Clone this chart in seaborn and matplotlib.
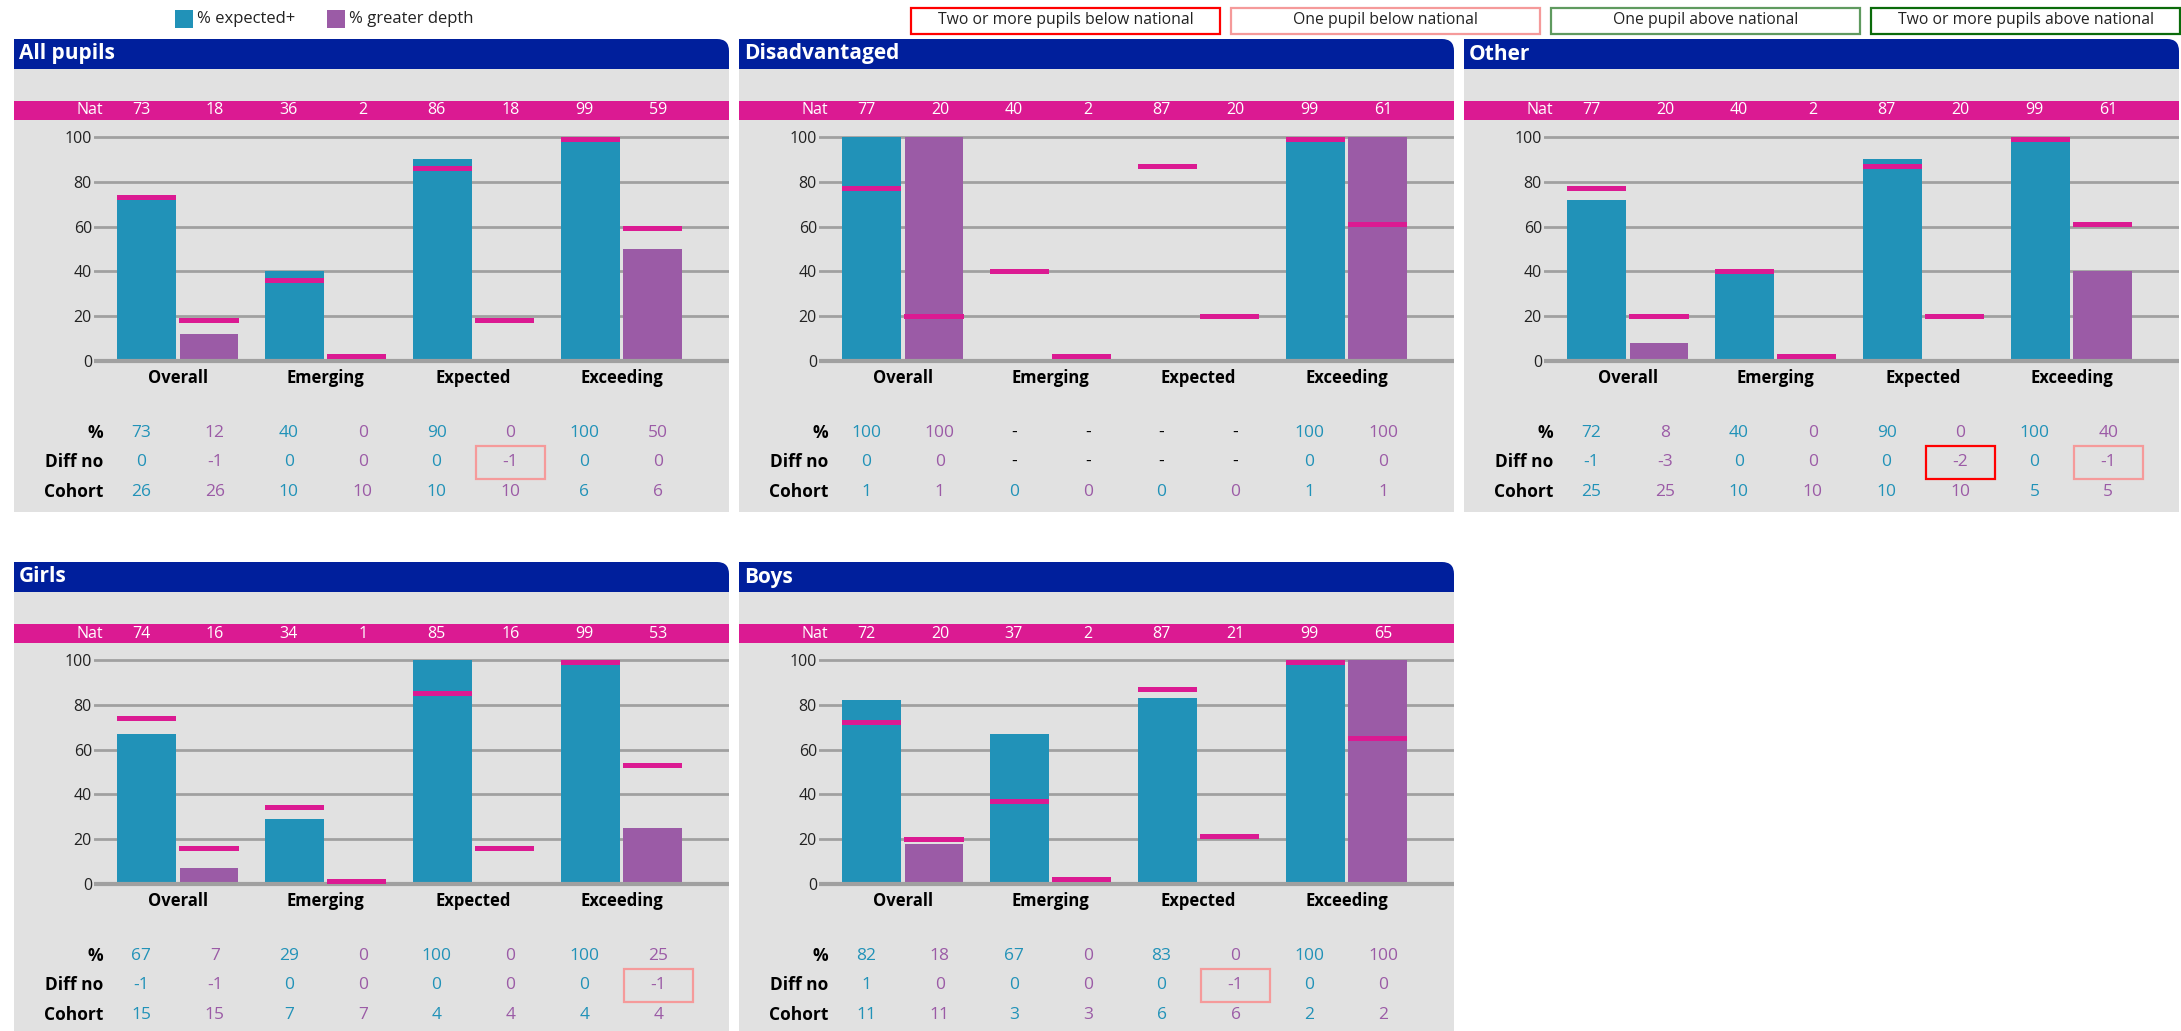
import numpy as np
import pandas as pd
import matplotlib
matplotlib.use("Agg")
import matplotlib.pyplot as plt
import seaborn as sns
from matplotlib.patches import Rectangle, FancyBboxPatch

sns.set_theme(style="white")
plt.rcParams['font.family'] = ['Open Sans', 'DejaVu Sans']

# ---- data ----
CATEGORIES = ["Overall", "Emerging", "Expected", "Exceeding"]
MEASURES = ["% expected+", "% greater depth"]
TITLES = ["All pupils", "Disadvantaged", "Other", "Girls", "Boys"]
ROW_LABELS = ["%", "Diff no", "Cohort"]
KEY_LABELS = ["Two or more pupils below national", "One pupil below national",
              "One pupil above national", "Two or more pupils above national"]

# 8 columns per panel: (Overall exp, Overall gd, Emerging exp, Emerging gd, ...)
all_nat = [73, 18, 36, 2, 86, 18, 99, 59]
all_pct = [73, 12, 40, 0, 90, 0, 100, 50]
all_diff = [0, -1, 0, 0, 0, -1, 0, 0]
all_cohort = [26, 26, 10, 10, 10, 10, 6, 6]
all_flag = [0, 0, 0, 0, 0, -1, 0, 0]

dis_nat = [77, 20, 40, 2, 87, 20, 99, 61]
dis_pct = [100, 100, None, None, None, None, 100, 100]
dis_diff = [0, 0, None, None, None, None, 0, 0]
dis_cohort = [1, 1, 0, 0, 0, 0, 1, 1]
dis_flag = [0, 0, 0, 0, 0, 0, 0, 0]

oth_nat = [77, 20, 40, 2, 87, 20, 99, 61]
oth_pct = [72, 8, 40, 0, 90, 0, 100, 40]
oth_diff = [-1, -3, 0, 0, 0, -2, 0, -1]
oth_cohort = [25, 25, 10, 10, 10, 10, 5, 5]
oth_flag = [0, 0, 0, 0, 0, -2, 0, -1]

girl_nat = [74, 16, 34, 1, 85, 16, 99, 53]
girl_pct = [67, 7, 29, 0, 100, 0, 100, 25]
girl_diff = [-1, -1, 0, 0, 0, 0, 0, -1]
girl_cohort = [15, 15, 7, 7, 4, 4, 4, 4]
girl_flag = [0, 0, 0, 0, 0, 0, 0, -1]

boy_nat = [72, 20, 37, 2, 87, 21, 99, 65]
boy_pct = [82, 18, 67, 0, 83, 0, 100, 100]
boy_diff = [1, 0, 0, 0, 0, -1, 0, 0]
boy_cohort = [11, 11, 3, 3, 6, 6, 2, 2]
boy_flag = [0, 0, 0, 0, 0, -1, 0, 0]

# ---- style ----
BLUE = "#2192b8"
PURPLE = "#9b5ba6"
PINK = "#db1a92"
NAVY = "#001f9c"
GREY = "#e1e1e1"
GRID = "#a0a0a0"
FLAG_COLORS = {-2: "#ff0000", -1: "#f59a9a", 1: "#5f9a5f", 2: "#0a6b0a"}
KEY_COLORS = ["#ff0000", "#f59a9a", "#5f9a5f", "#0a6b0a"]

W, H = 2181, 1031
PW, PH = 715, 473
fig = plt.figure(figsize=(W / 100, H / 100), dpi=100)


def rect(x, y, w, h):
    # pixel box measured from top-left -> figure fraction
    return [x / W, 1 - (y + h) / H, w / W, h / H]


COLX = [127 + 73.9 * i for i in range(8)]
ROW_Y = [394, 423, 453]


def draw_panel(left, top, title, nat, pct, diff, cohort, flag):
    bg = fig.add_axes(rect(left, top, PW, PH))
    bg.set_xlim(0, PW)
    bg.set_ylim(PH, 0)
    bg.axis("off")
    bg.add_patch(Rectangle((0, 30), PW, PH - 30, color=GREY, lw=0))
    bg.add_patch(FancyBboxPatch((0, 0), PW, 30, boxstyle="round,pad=0,rounding_size=12",
                                color=NAVY, lw=0))
    bg.add_patch(Rectangle((0, 0), PW - 20, 30, color=NAVY, lw=0))
    bg.add_patch(Rectangle((0, 15), PW, 15, color=NAVY, lw=0))
    bg.text(5, 15, title, color="white", fontsize=15, fontweight="bold", va="center")

    # national band
    bg.add_patch(Rectangle((0, 62), PW, 19, color=PINK, lw=0))
    bg.text(89, 71.5, "Nat", color="white", fontsize=11.5, ha="right", va="center")
    for i, v in enumerate(nat):
        bg.text(COLX[i], 71.5, str(v), color="white", fontsize=11.5, ha="center", va="center")

    # table under the chart
    for lab, y in zip(ROW_LABELS, ROW_Y):
        bg.text(89, y, lab, color="black", fontsize=12.5, fontweight="bold",
                ha="right", va="center")
    for r, vals in enumerate([pct, diff, cohort]):
        for i, v in enumerate(vals):
            col = BLUE if i % 2 == 0 else PURPLE
            txt = "-" if v is None else str(v)
            if v is None:
                col = "black"
            bg.text(COLX[i], ROW_Y[r], txt, color=col, fontsize=12.5, ha="center", va="center")
    for i, f in enumerate(flag):
        if f != 0:
            bg.add_patch(Rectangle((COLX[i] - 34.5, ROW_Y[1] - 16.5), 69, 33, fill=False,
                                   edgecolor=FLAG_COLORS[f], lw=1.6))

    # chart
    ax = fig.add_axes(rect(left + 80, top + 89.0, PW - 80, 328.7 - 89.0))
    ax.set_facecolor("none")
    df = pd.DataFrame({
        "cat": np.repeat(CATEGORIES, 2),
        "measure": MEASURES * 4,
        "value": [np.nan if v is None else v for v in pct],
    }).dropna()
    sns.barplot(data=df, x="cat", y="value", hue="measure", order=CATEGORIES,
                hue_order=MEASURES, palette=[BLUE, PURPLE], saturation=1,
                width=0.84, gap=0.05, errorbar=None, legend=False, linewidth=0, ax=ax)
    xs = np.repeat(np.arange(4), 2) + np.tile([-0.21, 0.21], 4)
    ax.bar(xs, 2.2, bottom=np.array(nat) - 1.1, width=0.4, color=PINK, lw=0, zorder=4)
    ax.set_xlim(-0.568, 3.728)
    ax.set_ylim(-3, 104)
    ax.set_yticks(range(0, 101, 20))
    ax.yaxis.grid(True, color=GRID, lw=2)
    ax.xaxis.grid(False)
    ax.set_axisbelow(True)
    ax.axhline(0, color=GRID, lw=3, zorder=3)
    for s in ax.spines.values():
        s.set_visible(False)
    ax.set_xticks(range(4))
    ax.set_xticklabels(CATEGORIES, fontsize=12, fontweight="bold", color="black")
    ax.tick_params(axis="x", length=0, pad=1)
    ax.tick_params(axis="y", length=0, pad=1.5, labelsize=11.5, labelcolor="#222222")
    ax.set_xlabel("")
    ax.set_ylabel("")


draw_panel(14, 39, TITLES[0], all_nat, all_pct, all_diff, all_cohort, all_flag)
draw_panel(739, 39, TITLES[1], dis_nat, dis_pct, dis_diff, dis_cohort, dis_flag)
draw_panel(1464, 39, TITLES[2], oth_nat, oth_pct, oth_diff, oth_cohort, oth_flag)
draw_panel(14, 562, TITLES[3], girl_nat, girl_pct, girl_diff, girl_cohort, girl_flag)
draw_panel(739, 562, TITLES[4], boy_nat, boy_pct, boy_diff, boy_cohort, boy_flag)

# ---- legends across the top ----
top = fig.add_axes([0, 0, 1, 1])
top.set_xlim(0, W)
top.set_ylim(H, 0)
top.axis("off")
top.set_zorder(-1)
for x0, col, lab in [(175, BLUE, MEASURES[0]), (327, PURPLE, MEASURES[1])]:
    top.add_patch(Rectangle((x0, 10), 18, 18, color=col, lw=0))
    top.text(x0 + 22, 19, lab, fontsize=12, va="center", color="#222222")

box_x = [911, 1231, 1551, 1871]
for x0, col, lab in zip(box_x, KEY_COLORS, KEY_LABELS):
    top.add_patch(Rectangle((x0, 7.5), 309, 26, facecolor="white", edgecolor=col, lw=1.6))
    top.text(x0 + 154.5, 20.5, lab, fontsize=11.3, ha="center", va="center", color="#222222")

fig.savefig("out.png", dpi=100)
